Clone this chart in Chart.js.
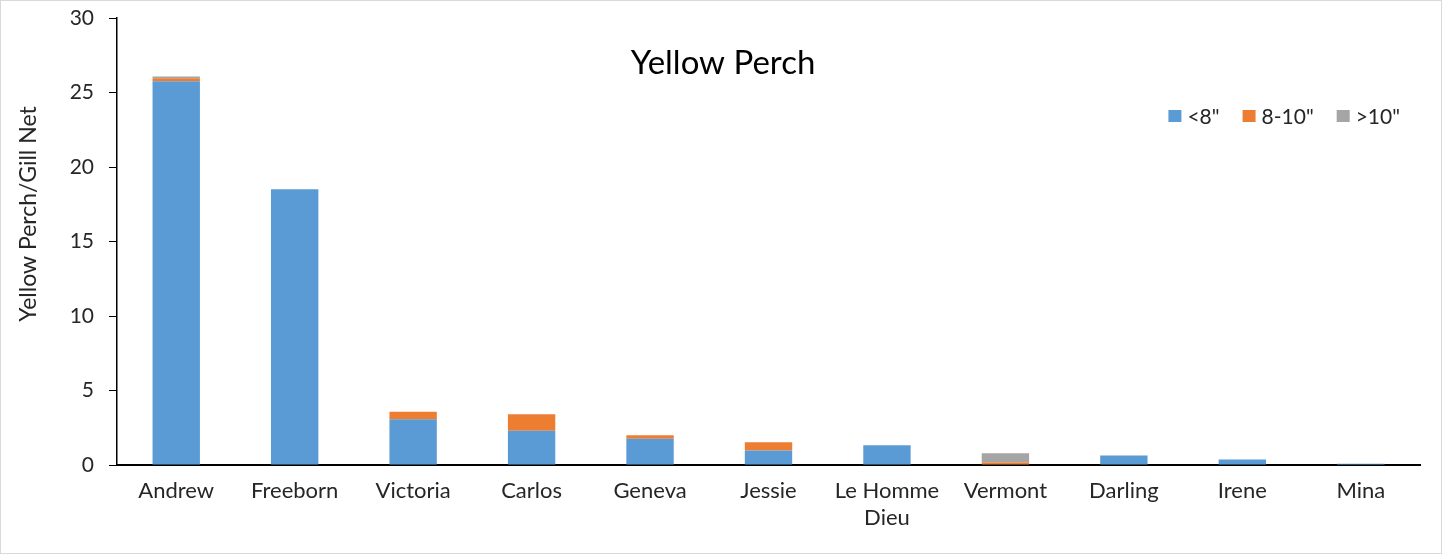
<!DOCTYPE html>
<html>
<head>
<meta charset="utf-8">
<script src="https://cdn.jsdelivr.net/npm/chart.js@4.4.1/dist/chart.umd.min.js"></script>
<style>
  html, body { margin: 0; padding: 0; background: #fff; }
  #wrap { position: relative; width: 1442px; height: 554px; box-sizing: border-box; border: 1px solid #d9d9d9; }
  canvas { display: block; }
</style>
</head>
<body>
<div id="wrap"><canvas id="c" width="1440" height="552"></canvas></div>
<script>
const categories = ["Andrew", "Freeborn", "Victoria", "Carlos", "Geneva", "Jessie", ["Le Homme", "Dieu"], "Vermont", "Darling", "Irene", "Mina"];
const under8 = [25.75, 18.5, 3.07, 2.3, 1.76, 0.98, 1.33, 0, 0.64, 0.37, 0.08];
const from8to10 = [0.2, 0, 0.5, 1.1, 0.23, 0.54, 0, 0.17, 0, 0, 0];
const over10 = [0.13, 0, 0, 0, 0, 0, 0, 0.62, 0, 0, 0];
const seriesNames = ['<8"', '8-10"', '>10"'];
const seriesColors = ['#5B9BD5', '#ED7D31', '#A5A5A5'];
const chartTitle = "Yellow Perch";
const yAxisTitle = "Yellow Perch/Gill Net";

const FONT = "Lato, 'Open Sans', sans-serif";
const TEXT = "#262626";

const overlayPlugin = {
  id: 'overlay',
  afterDraw(chart) {
    const ctx = chart.ctx;
    ctx.save();
    // title inside plot area
    ctx.font = "33px " + FONT;
    ctx.fillStyle = "#000";
    ctx.textAlign = "center";
    ctx.textBaseline = "alphabetic";
    ctx.fillText(chartTitle, 722, 73);

    // y-axis title
    ctx.save();
    ctx.font = "23px " + FONT;
    ctx.fillStyle = TEXT;
    ctx.translate(35, 213);
    ctx.rotate(-Math.PI / 2);
    ctx.textAlign = "center";
    ctx.textBaseline = "alphabetic";
    ctx.fillText(yAxisTitle, 0, 0);
    ctx.restore();

    // legend inside plot area, right aligned
    ctx.font = "21px " + FONT;
    ctx.textAlign = "left";
    ctx.textBaseline = "middle";
    const box = 13, gapBoxText = 6, gapItems = 23;
    const ds = chart.data.datasets;
    const widths = ds.map(d => ctx.measureText(d.label).width);
    let total = 0;
    widths.forEach((w, i) => { total += box + gapBoxText + w + (i < widths.length - 1 ? gapItems : 0); });
    let x = 1399 - total;
    const cy = 115;
    ds.forEach((d, i) => {
      ctx.fillStyle = d.backgroundColor;
      ctx.fillRect(x, cy - 6, box, 12);
      x += box + gapBoxText;
      ctx.fillStyle = TEXT;
      ctx.fillText(d.label, x, cy + 1);
      x += widths[i] + gapItems;
    });
    ctx.restore();
  }
};

new Chart(document.getElementById('c'), {
  type: 'bar',
  data: {
    labels: categories,
    datasets: [
      { label: seriesNames[0], data: under8, backgroundColor: seriesColors[0] },
      { label: seriesNames[1], data: from8to10, backgroundColor: seriesColors[1] },
      { label: seriesNames[2], data: over10, backgroundColor: seriesColors[2] }
    ]
  },
  plugins: [overlayPlugin],
  options: {
    responsive: false,
    animation: false,
    layout: { padding: { left: 0, right: 21, top: 17, bottom: 0 } },
    datasets: { bar: { barPercentage: 0.4, categoryPercentage: 1.0, borderWidth: 0 } },
    plugins: {
      legend: { display: false },
      tooltip: { enabled: false },
      title: { display: false }
    },
    scales: {
      x: {
        stacked: true,
        grid: { display: false, drawTicks: false },
        border: { display: true, color: '#000', width: 2 },
        ticks: { color: TEXT, font: { family: FONT, size: 22, lineHeight: 1.25 }, padding: 12, maxRotation: 0, autoSkip: false },
        afterFit(s) { s.height = 88; s.paddingLeft = 0; s.paddingRight = 0; }
      },
      y: {
        stacked: true,
        min: 0, max: 30,
        ticks: { stepSize: 5, color: TEXT, font: { family: FONT, size: 21 }, padding: 15 },
        grid: { drawOnChartArea: false, drawTicks: true, tickLength: 8, color: '#000' },
        border: { display: true, color: '#000', width: 1.5 },
        afterFit(s) { s.width = 116; s.paddingTop = 0; s.paddingBottom = 0; }
      }
    }
  }
});
</script>
</body>
</html>
